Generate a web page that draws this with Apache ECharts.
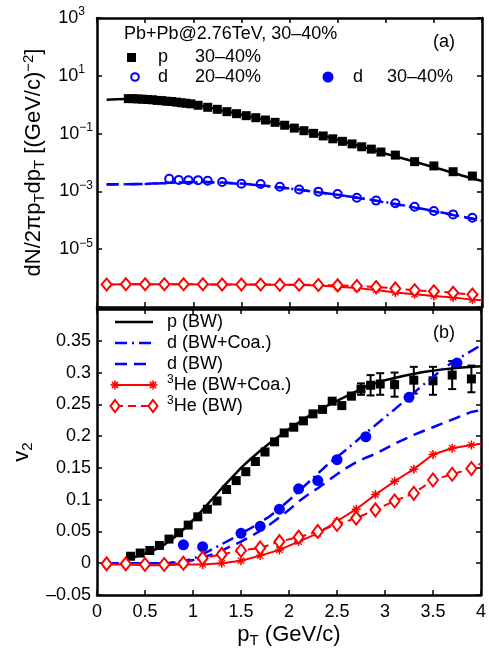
<!DOCTYPE html>
<html>
<head>
<meta charset="utf-8">
<script src="https://cdn.jsdelivr.net/npm/echarts@6.0.0/dist/echarts.min.js"></script>
<style>
  html, body { margin: 0; padding: 0; background: #fff; }
  #main { width: 489px; height: 649px; }
</style>
</head>
<body>
<div id="main"></div>
<script>
// ---------- (a) spectra ----------
const pSpecPt = [0.325, 0.375, 0.425, 0.475, 0.525, 0.575, 0.625, 0.675, 0.725, 0.775, 0.825, 0.875, 0.925, 0.975,
  1.05, 1.15, 1.25, 1.35, 1.45, 1.55, 1.65, 1.75, 1.85, 1.95, 2.05, 2.15, 2.25, 2.35, 2.45, 2.55, 2.65, 2.75, 2.85, 2.95,
  3.1, 3.3, 3.5, 3.7, 3.9]
const pSpec = [1.62, 1.62, 1.58, 1.55, 1.51, 1.48, 1.41, 1.38, 1.32, 1.29, 1.23, 1.17, 1.12, 1.07,
  0.955, 0.813, 0.692, 0.575, 0.49, 0.417, 0.355, 0.295, 0.245, 0.195, 0.155, 0.126, 0.102, 0.083, 0.066, 0.054, 0.044, 0.035, 0.029, 0.023,
  0.018, 0.0107, 0.0076, 0.0048, 0.0034]

const pBwSpecPt = [0.1, 0.2, 0.3, 0.4, 0.5, 0.6, 0.7, 0.8, 0.9, 1.0, 1.1, 1.2, 1.3, 1.4, 1.5, 1.6, 1.7, 1.8, 1.9, 2.0,
  2.2, 2.4, 2.6, 2.8, 3.0, 3.2, 3.4, 3.6, 3.8, 4.0]
const pBwSpec = [1.48, 1.53, 1.58, 1.58, 1.53, 1.46, 1.38, 1.29, 1.17, 1.05, 0.89, 0.76, 0.63, 0.54, 0.45, 0.38, 0.32, 0.26, 0.22, 0.178,
  0.117, 0.076, 0.049, 0.032, 0.02, 0.0132, 0.0085, 0.0055, 0.0035, 0.0023]

const dSpecPt = [0.75, 0.85, 0.95, 1.05, 1.15, 1.3, 1.5, 1.7, 1.9, 2.1, 2.3, 2.5, 2.7, 2.9, 3.1, 3.3, 3.5, 3.7, 3.9]
const dSpec = [2.75e-3, 2.5e-3, 2.45e-3, 2.45e-3, 2.35e-3, 2.1e-3, 1.85e-3, 1.8e-3, 1.45e-3, 1.17e-3, 9.8e-4, 8.1e-4,
  6.0e-4, 4.8e-4, 3.9e-4, 2.95e-4, 2.1e-4, 1.6e-4, 1.23e-4]

// model curves share one pT grid (last point 4.0 has no marker)
const modelPt = [0.1, 0.3, 0.5, 0.7, 0.9, 1.1, 1.3, 1.5, 1.7, 1.9, 2.1, 2.3, 2.5, 2.7, 2.9, 3.1, 3.3, 3.5, 3.7, 3.9, 4.0]
const dBwSpec = [1.78e-3, 1.78e-3, 1.82e-3, 1.95e-3, 2.09e-3, 2.14e-3, 2.04e-3, 1.86e-3, 1.62e-3, 1.38e-3, 1.15e-3,
  9.3e-4, 7.6e-4, 6.0e-4, 4.7e-4, 3.6e-4, 2.75e-4, 2.04e-4, 1.51e-4, 1.12e-4, 9.5e-5]
const dCoaSpec = [1.75e-3, 1.76e-3, 1.8e-3, 1.92e-3, 2.05e-3, 2.1e-3, 2.0e-3, 1.83e-3, 1.6e-3, 1.36e-3, 1.14e-3,
  9.3e-4, 7.6e-4, 6.1e-4, 4.8e-4, 3.7e-4, 2.8e-4, 2.1e-4, 1.56e-4, 1.15e-4, 9.8e-5]
const heBwSpec = [6.0e-7, 6.1e-7, 6.1e-7, 6.1e-7, 6.1e-7, 6.1e-7, 6.0e-7, 6.0e-7, 6.0e-7, 5.9e-7, 5.9e-7,
  5.8e-7, 5.6e-7, 5.3e-7, 4.9e-7, 4.4e-7, 3.8e-7, 3.5e-7, 3.1e-7, 2.7e-7, 2.55e-7]
const heCoaSpec = [6.0e-7, 6.1e-7, 6.1e-7, 6.1e-7, 6.1e-7, 6.0e-7, 6.0e-7, 6.0e-7, 5.9e-7, 5.9e-7, 5.8e-7,
  5.5e-7, 5.0e-7, 4.5e-7, 3.9e-7, 3.2e-7, 2.75e-7, 2.4e-7, 2.15e-7, 1.8e-7, 1.7e-7]

const specTicks = [1e-7, 1e-5, 1e-3, 1e-1, 1e1, 1e3]
const specLabels = [1e-5, 1e-3, 1e-1, 1e1, 1e3]

// ---------- (b) v2 ----------
const pV2Pt = [0.35, 0.45, 0.55, 0.65, 0.75, 0.85, 0.95, 1.05, 1.15, 1.25, 1.35, 1.45, 1.55, 1.65, 1.75, 1.85, 1.95,
  2.05, 2.15, 2.25, 2.35, 2.45, 2.55, 2.65, 2.75, 2.85, 2.95, 3.1, 3.3, 3.5, 3.7, 3.9]
const pV2 = [0.011, 0.016, 0.02, 0.028, 0.038, 0.048, 0.06, 0.073, 0.085, 0.098, 0.116, 0.13, 0.144, 0.16, 0.175, 0.191, 0.205,
  0.214, 0.224, 0.235, 0.242, 0.255, 0.248, 0.263, 0.274, 0.28, 0.282, 0.281, 0.288, 0.287, 0.296, 0.29]
const pV2Err = [0, 0, 0, 0, 0, 0, 0, 0, 0, 0, 0, 0, 0, 0, 0, 0, 0,
  0, 0, 0, 0, 0, 0.003, 0.005, 0.009, 0.016, 0.017, 0.019, 0.021, 0.022, 0.022, 0.021]

const dV2Pt = [0.9, 1.1, 1.5, 1.7, 1.9, 2.1, 2.3, 2.5, 2.8, 3.25, 3.75]
const dV2 = [0.029, 0.026, 0.047, 0.058, 0.085, 0.117, 0.13, 0.163, 0.199, 0.261, 0.315]

const pBwV2Pt = [0.3, 0.4, 0.5, 0.6, 0.7, 0.8, 0.9, 1.0, 1.1, 1.2, 1.3, 1.4, 1.5, 1.6, 1.7, 1.8, 1.9, 2.0,
  2.2, 2.4, 2.6, 2.8, 3.0, 3.2, 3.4, 3.6, 3.8, 4.0]
const pBwV2 = [0.006, 0.01, 0.015, 0.021, 0.029, 0.04, 0.053, 0.068, 0.084, 0.101, 0.118, 0.134, 0.15, 0.164, 0.177, 0.189, 0.2, 0.211,
  0.231, 0.248, 0.263, 0.278, 0.288, 0.295, 0.301, 0.305, 0.308, 0.31]

const dModelV2Pt = [0.1, 0.3, 0.5, 0.7, 0.9, 1.0, 1.1, 1.2, 1.3, 1.4, 1.5, 1.6, 1.7, 1.8, 1.9, 2.0, 2.1, 2.2, 2.3, 2.4, 2.5,
  2.6, 2.7, 2.8, 2.9, 3.0, 3.1, 3.2, 3.3, 3.4, 3.5, 3.6, 3.7, 3.8, 3.9, 4.0]
const dCoaV2 = [0, 0, 0, 0, 0.003, 0.007, 0.014, 0.022, 0.03, 0.038, 0.047, 0.055, 0.064, 0.074, 0.086, 0.099, 0.113, 0.127,
  0.141, 0.155, 0.167, 0.179, 0.192, 0.205, 0.217, 0.23, 0.242, 0.255, 0.268, 0.281, 0.293, 0.305, 0.316, 0.325, 0.334, 0.343]
const dBwV2 = [0, 0, 0, 0, 0.002, 0.005, 0.009, 0.014, 0.02, 0.027, 0.034, 0.042, 0.051, 0.061, 0.072, 0.084, 0.097, 0.108,
  0.118, 0.129, 0.14, 0.15, 0.159, 0.166, 0.172, 0.18, 0.188, 0.195, 0.202, 0.208, 0.214, 0.22, 0.226, 0.232, 0.238, 0.241]

const heCoaV2 = [-0.002, -0.002, -0.003, -0.003, -0.002, -0.002, 0.0, 0.004, 0.012, 0.021, 0.034, 0.047, 0.066, 0.085,
  0.108, 0.129, 0.148, 0.171, 0.181, 0.186, 0.188]
const heBwV2 = [-0.001, -0.001, -0.002, -0.002, 0.0, 0.008, 0.014, 0.02, 0.024, 0.034, 0.041, 0.05, 0.061, 0.071,
  0.084, 0.098, 0.11, 0.131, 0.14, 0.149, 0.157]

// ---------- styling ----------
const FONT = '"Liberation Sans", Arial, Helvetica, sans-serif'
const BLUE = '#0000ff'
const RED = '#ff0000'
const STAR = 'path://M-1,-6L1,-6L1,6L-1,6Z M-6,-1L6,-1L6,1L-6,1Z M-3.63,-4.77L4.77,3.63L3.63,4.77L-4.77,-3.63Z M-4.77,3.63L3.63,-4.77L4.77,-3.63L-3.63,4.77Z'
const DASH = [12, 7]
const DASHDOT = [12, 5, 2, 5]
const RED_DASH = [8, 5]

const pts = (xs, ys) => xs.map((x, i) => [x, ys[i]])
const noEndMarker = (mark) => (v) => (v[0] >= 4 ? 'none' : mark)

function frameAxis(extra) {
  return Object.assign({
    axisLine: { onZero: false, lineStyle: { color: '#000', width: 2.5 } },
    axisTick: { inside: true, length: 5, lineStyle: { color: '#000', width: 1.5 } },
    axisLabel: { show: false },
    splitLine: { show: false },
  }, extra)
}

const tickLabel = { show: true, color: '#000', fontSize: 18, fontFamily: FONT }
const titleRich = {
  n: { fontSize: 22, lineHeight: 26, fontFamily: FONT, color: '#000' },
  u: { fontSize: 15, lineHeight: 15, verticalAlign: 'bottom', fontFamily: FONT, color: '#000' },
  p: { fontSize: 15, lineHeight: 15, verticalAlign: 'top', fontFamily: FONT, color: '#000' },
}

function star(cx, cy) {
  const r = 4.5
  const segs = [[0, r], [r, 0], [r * 0.7, r * 0.7], [r * 0.7, -r * 0.7]]
  return segs.map(([dx, dy]) => ({
    type: 'line', shape: { x1: cx - dx, y1: cy - dy, x2: cx + dx, y2: cy + dy }, style: { stroke: RED, lineWidth: 1.6 },
  }))
}
function diamond(cx, cy) {
  return { type: 'polygon', shape: { points: [[cx, cy - 6], [cx + 4.5, cy], [cx, cy + 6], [cx - 4.5, cy]] },
    style: { fill: '#fff', stroke: RED, lineWidth: 2 } }
}
function txt(x, y, text, extra) {
  return { type: 'text', x: x, y: y, style: Object.assign({ text: text, fill: '#000', fontSize: 18, fontFamily: FONT, verticalAlign: 'middle' }, extra) }
}

const legendRows = [322, 343, 364, 385, 406]
const LX1 = 115, LX2 = 153, LTX = 167
const supRich = {
  s: { fontSize: 12, verticalAlign: 'top', lineHeight: 12, fontFamily: FONT, fill: '#000' },
  n: { fontSize: 18, lineHeight: 22, fontFamily: FONT, fill: '#000' },
}

const graphic = [
  txt(124, 34, 'Pb+Pb@2.76TeV, 30\u201340%'),
  txt(455, 42, '(a)', { align: 'right' }),
  txt(455, 333, '(b)', { align: 'right' }),
  // legend (a)
  { type: 'rect', shape: { x: 127, y: 53, width: 9, height: 9 }, style: { fill: '#000' } },
  txt(158, 57, 'p'), txt(195, 57, '30\u201340%'),
  { type: 'circle', shape: { cx: 135, cy: 77, r: 3.8 }, style: { fill: '#fff', stroke: BLUE, lineWidth: 2 } },
  txt(158, 77, 'd'), txt(195, 77, '20\u201340%'),
  { type: 'circle', shape: { cx: 328, cy: 77, r: 5.5 }, style: { fill: BLUE } },
  txt(353, 77, 'd'), txt(387, 77, '30\u201340%'),
  // legend (b)
  { type: 'line', shape: { x1: LX1, y1: legendRows[0], x2: LX2, y2: legendRows[0] }, style: { stroke: '#000', lineWidth: 2.5 } },
  txt(LTX, legendRows[0], 'p (BW)'),
  { type: 'line', shape: { x1: LX1, y1: legendRows[1], x2: LX2, y2: legendRows[1] }, style: { stroke: BLUE, lineWidth: 2.5, lineDash: DASHDOT } },
  txt(LTX, legendRows[1], 'd (BW+Coa.)'),
  { type: 'line', shape: { x1: LX1, y1: legendRows[2], x2: LX2, y2: legendRows[2] }, style: { stroke: BLUE, lineWidth: 2.5, lineDash: DASH } },
  txt(LTX, legendRows[2], 'd (BW)'),
  { type: 'line', shape: { x1: LX1, y1: legendRows[3], x2: LX2, y2: legendRows[3] }, style: { stroke: RED, lineWidth: 2 } },
  ...star(LX1, legendRows[3]), ...star(LX2, legendRows[3]),
  txt(LTX, legendRows[3], '{s|3}{n|He (BW+Coa.)}', { rich: supRich }),
  { type: 'line', shape: { x1: LX1, y1: legendRows[4], x2: LX2, y2: legendRows[4] }, style: { stroke: RED, lineWidth: 2, lineDash: RED_DASH } },
  diamond(LX1, legendRows[4]), diamond(LX2, legendRows[4]),
  txt(LTX, legendRows[4], '{s|3}{n|He (BW)}', { rich: supRich }),
]

const onTop = { xAxisIndex: 0, yAxisIndex: 0 }
const onBot = { xAxisIndex: 2, yAxisIndex: 2 }
const solid = (c) => ({ color: c, opacity: 1 })

const option = {
  animation: false,
  backgroundColor: '#fff',
  grid: [
    { left: 97, top: 18, width: 385, height: 289 },
    { left: 97, top: 309, width: 385, height: 290 },
  ],
  xAxis: [
    frameAxis({ gridIndex: 0, type: 'value', min: 0, max: 4, interval: 0.5 }),
    frameAxis({ gridIndex: 0, type: 'value', position: 'top', min: 0, max: 4, interval: 0.5 }),
    frameAxis({
      gridIndex: 1, type: 'value', min: 0, max: 4, interval: 0.5,
      axisLabel: Object.assign({ margin: 8 }, tickLabel),
      name: '{n|p}{u|T}{n| (GeV/c)}', nameLocation: 'middle', nameGap: 27,
      nameTextStyle: { rich: titleRich },
    }),
    frameAxis({ gridIndex: 1, type: 'value', position: 'top', min: 0, max: 4, interval: 0.5 }),
  ],
  yAxis: [
    frameAxis({
      gridIndex: 0, type: 'log', logBase: 10, min: 1e-7, max: 1e3,
      axisTick: { inside: true, length: 5, lineStyle: { color: '#000', width: 1.5 }, customValues: specTicks },
      axisLabel: {
        show: true, margin: 4, customValues: specLabels,
        formatter: (v) => {
          const e = Math.round(Math.log10(v))
          return e < 0 ? '{b|10}{m|\u2212' + (-e) + '}' : '{b|10}{s|' + e + '}'
        },
        rich: {
          b: { fontSize: 18, lineHeight: 24, fontFamily: FONT, color: '#000' },
          s: { fontSize: 12, lineHeight: 12, verticalAlign: 'top', padding: [0, 8, 0, 0], fontFamily: FONT, color: '#000' },
          m: { fontSize: 12, lineHeight: 12, verticalAlign: 'top', fontFamily: FONT, color: '#000' },
        },
      },
      name: '{n|dN/2\u03c0p}{u|T}{n|dp}{u|T}{n| [(GeV/c)}{p|\u22122}{n|]}', nameLocation: 'middle', nameGap: 48,
      nameTextStyle: { rich: titleRich },
    }),
    frameAxis({
      gridIndex: 0, type: 'log', logBase: 10, position: 'right', min: 1e-7, max: 1e3,
      axisTick: { inside: true, length: 5, lineStyle: { color: '#000', width: 1.5 }, customValues: specTicks },
    }),
    frameAxis({
      gridIndex: 1, type: 'value', min: -0.05, max: 0.4, interval: 0.05,
      axisLabel: Object.assign({
        margin: 6,
        formatter: (v) => (v > 0.39 ? '' : String(Math.round(v * 100) / 100).replace('-', '\u2013')),
      }, tickLabel),
      name: '{n|v}{u|2}', nameLocation: 'middle', nameGap: 55,
      nameTextStyle: { rich: titleRich },
    }),
    frameAxis({ gridIndex: 1, type: 'value', position: 'right', min: -0.05, max: 0.4, interval: 0.05 }),
  ],
  graphic: graphic,
  series: [
    // ---- (a) ----
    Object.assign({ type: 'line', name: 'p (BW)', data: pts(pBwSpecPt, pBwSpec), symbol: 'none',
      lineStyle: { color: '#000', width: 2.5 } }, onTop),
    Object.assign({ type: 'scatter', name: 'p 30-40%', data: pts(pSpecPt, pSpec), symbol: 'rect', symbolSize: 9,
      itemStyle: solid('#000') }, onTop),
    Object.assign({ type: 'line', name: 'd (BW)', data: pts(modelPt, dBwSpec), symbol: 'none',
      lineStyle: { color: BLUE, width: 2.5, type: DASH } }, onTop),
    Object.assign({ type: 'line', name: 'd (BW+Coa.)', data: pts(modelPt, dCoaSpec), symbol: 'none',
      lineStyle: { color: BLUE, width: 2.5, type: DASHDOT } }, onTop),
    Object.assign({ type: 'scatter', name: 'd 20-40%', data: pts(dSpecPt, dSpec), symbol: 'circle', symbolSize: 8,
      itemStyle: { color: '#fff', borderColor: BLUE, borderWidth: 2, opacity: 1 } }, onTop),
    Object.assign({ type: 'line', name: '3He (BW+Coa.)', data: pts(modelPt, heCoaSpec), symbol: noEndMarker(STAR), symbolSize: 9,
      showAllSymbol: true, lineStyle: { color: RED, width: 2 }, itemStyle: { color: RED } }, onTop),
    Object.assign({ type: 'line', name: '3He (BW)', data: pts(modelPt, heBwSpec), symbol: noEndMarker('diamond'), symbolSize: [10, 12],
      showAllSymbol: true, lineStyle: { color: RED, width: 2, type: RED_DASH }, itemStyle: { color: '#fff', borderColor: RED, borderWidth: 2 } }, onTop),
    // ---- (b) ----
    Object.assign({ type: 'line', name: 'p (BW)', data: pts(pBwV2Pt, pBwV2), symbol: 'none',
      lineStyle: { color: '#000', width: 2.5 } }, onBot),
    Object.assign({ type: 'line', name: 'd (BW+Coa.)', data: pts(dModelV2Pt, dCoaV2), symbol: 'none',
      lineStyle: { color: BLUE, width: 2.5, type: DASHDOT } }, onBot),
    Object.assign({ type: 'line', name: 'd (BW)', data: pts(dModelV2Pt, dBwV2), symbol: 'none',
      lineStyle: { color: BLUE, width: 2.5, type: DASH } }, onBot),
    Object.assign({ type: 'line', name: '3He (BW+Coa.)', data: pts(modelPt, heCoaV2), symbol: noEndMarker(STAR), symbolSize: 9,
      showAllSymbol: true, lineStyle: { color: RED, width: 2 }, itemStyle: { color: RED } }, onBot),
    Object.assign({ type: 'line', name: '3He (BW)', data: pts(modelPt, heBwV2), symbol: noEndMarker('diamond'), symbolSize: [10, 13],
      showAllSymbol: true, lineStyle: { color: RED, width: 2, type: RED_DASH }, itemStyle: { color: '#fff', borderColor: RED, borderWidth: 2 } }, onBot),
    Object.assign({
      type: 'custom', name: 'p v2 err',
      data: pV2Pt.map((x, i) => [x, pV2[i], pV2Err[i]]).filter((d) => d[2] > 0),
      encode: { x: 0, y: 1 },
      renderItem: (params, api) => {
        const x = api.value(0), y = api.value(1), e = api.value(2)
        const hi = api.coord([x, y + e]), lo = api.coord([x, y - e])
        const w = 4
        const st = { stroke: '#000', lineWidth: 2 }
        return { type: 'group', children: [
          { type: 'line', shape: { x1: hi[0], y1: hi[1], x2: lo[0], y2: lo[1] }, style: st },
          { type: 'line', shape: { x1: hi[0] - w, y1: hi[1], x2: hi[0] + w, y2: hi[1] }, style: st },
          { type: 'line', shape: { x1: lo[0] - w, y1: lo[1], x2: lo[0] + w, y2: lo[1] }, style: st },
        ] }
      },
    }, onBot),
    Object.assign({ type: 'scatter', name: 'p 30-40%', data: pts(pV2Pt, pV2), symbol: 'rect', symbolSize: 9,
      itemStyle: solid('#000') }, onBot),
    Object.assign({ type: 'scatter', name: 'd 30-40%', data: pts(dV2Pt, dV2), symbol: 'circle', symbolSize: 11,
      itemStyle: solid(BLUE) }, onBot),
  ],
}

const chart = echarts.init(document.getElementById('main'))
chart.setOption(option)
</script>
</body>
</html>
